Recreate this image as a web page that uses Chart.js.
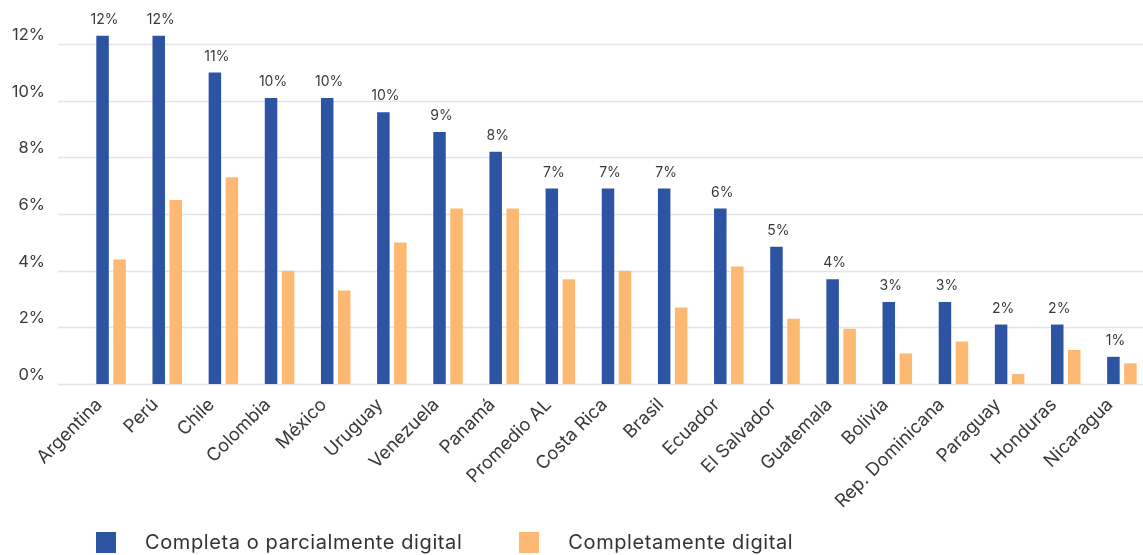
<!DOCTYPE html>
<html>
<head>
<meta charset="utf-8">
<script src="https://cdn.jsdelivr.net/npm/chart.js@4/dist/chart.umd.min.js"></script>
<style>
  html, body { margin: 0; padding: 0; background: #fff; overflow: hidden; }
  #wrap { position: relative; width: 1150px; height: 555px; overflow: hidden; }
  /* el lienzo es más alto y se sube: el eje x girado reserva espacio arriba */
  #chart { position: absolute; left: 0; top: -32px; }
  #legend { position: absolute; left: 96px; top: 530px; font-family: Inter, sans-serif; font-size: 20px; letter-spacing: 0.6px; color: #333; white-space: nowrap; }
  #legend span.item { display: inline-flex; align-items: center; margin-right: 57px; }
  #legend span.box { display: inline-block; width: 20px; height: 21px; margin-right: 29px; }
</style>
</head>
<body>
<div id="wrap">
  <canvas id="chart" width="1150" height="587"></canvas>
  <div id="legend"></div>
</div>
<script>
const paises = ['Argentina', 'Perú', 'Chile', 'Colombia', 'México', 'Uruguay', 'Venezuela', 'Panamá',
  'Promedio AL', 'Costa Rica', 'Brasil', 'Ecuador', 'El Salvador', 'Guatemala', 'Bolivia',
  'Rep. Dominicana', 'Paraguay', 'Honduras', 'Nicaragua'];
// valores en %
const parcialDigital = [12.3, 12.3, 11.0, 10.1, 10.1, 9.6, 8.9, 8.2, 6.9, 6.9, 6.9, 6.2, 4.85, 3.7, 2.9, 2.9, 2.1, 2.1, 0.96];
const completoDigital = [4.4, 6.5, 7.3, 4.0, 3.3, 5.0, 6.2, 6.2, 3.7, 4.0, 2.7, 4.15, 2.3, 1.95, 1.08, 1.5, 0.35, 1.2, 0.73];
const yTicks = [0, 2, 4, 6, 8, 10, 12];

const txtColor = '#3a3a3a';

// líneas de cuadrícula (van más allá del área de barras, como en el original)
const gridPlugin = {
  id: 'gridExt',
  beforeDatasetsDraw(chart) {
    const ctx = chart.ctx;
    const y = chart.scales.y;
    ctx.save();
    ctx.strokeStyle = '#e4e4ec';
    ctx.lineWidth = 1.5;
    yTicks.forEach(v => {
      const py = Math.round(y.getPixelForValue(v)) + 0.5;
      ctx.beginPath();
      ctx.moveTo(58, py);
      ctx.lineTo(chart.width, py);
      ctx.stroke();
    });
    ctx.restore();
  }
};

// etiquetas de valor sobre las barras azules
const labelPlugin = {
  id: 'barLabels',
  afterDatasetsDraw(chart) {
    const ctx = chart.ctx;
    const meta = chart.getDatasetMeta(0);
    ctx.save();
    ctx.font = '14px Inter, sans-serif';
    ctx.fillStyle = txtColor;
    ctx.textAlign = 'center';
    ctx.textBaseline = 'bottom';
    meta.data.forEach((bar, i) => {
      ctx.fillText(Math.round(parcialDigital[i]) + '%', bar.x + 2, bar.y - 9);
    });
    ctx.restore();
  }
};

const chart = new Chart(document.getElementById('chart'), {
  type: 'bar',
  data: {
    labels: paises,
    datasets: [{
      label: 'Completa o parcialmente digital',
      data: parcialDigital,
      backgroundColor: '#2c54a3',
      categoryPercentage: 0.606,
      barPercentage: 0.735
    }, {
      label: 'Completamente digital',
      data: completoDigital,
      backgroundColor: '#fdb971',
      categoryPercentage: 0.606,
      barPercentage: 0.735
    }]
  },
  options: {
    responsive: false,
    animation: false,
    layout: { padding: 0 },
    plugins: {
      legend: { display: false },
      tooltip: { enabled: false }
    },
    scales: {
      x: {
        grid: { display: false, drawTicks: false },
        border: { display: false },
        afterFit(scale) { scale.height = 171; },
        ticks: {
          autoSkip: false,
          maxRotation: 45,
          minRotation: 45,
          padding: 10,
          labelOffset: -12,
          color: txtColor,
          font: { family: 'Inter, sans-serif', size: 18.3 }
        }
      },
      y: {
        min: 0,
        max: 13,
        grid: { display: false, drawTicks: false },
        border: { display: false },
        afterFit(scale) { scale.width = 83; },
        afterBuildTicks(scale) { scale.ticks = yTicks.map(v => ({ value: v })); },
        ticks: {
          stepSize: 1,
          padding: 38,
          labelOffset: -9,
          color: txtColor,
          font: { family: 'Inter, sans-serif', size: 16.5 },
          callback: v => v + '%'
        }
      }
    }
  },
  plugins: [gridPlugin, labelPlugin]
});

// leyenda en HTML
const legend = document.getElementById('legend');
chart.data.datasets.forEach(ds => {
  const item = document.createElement('span');
  item.className = 'item';
  const box = document.createElement('span');
  box.className = 'box';
  box.style.background = ds.backgroundColor;
  item.appendChild(box);
  item.appendChild(document.createTextNode(ds.label));
  legend.appendChild(item);
});
</script>
</body>
</html>
